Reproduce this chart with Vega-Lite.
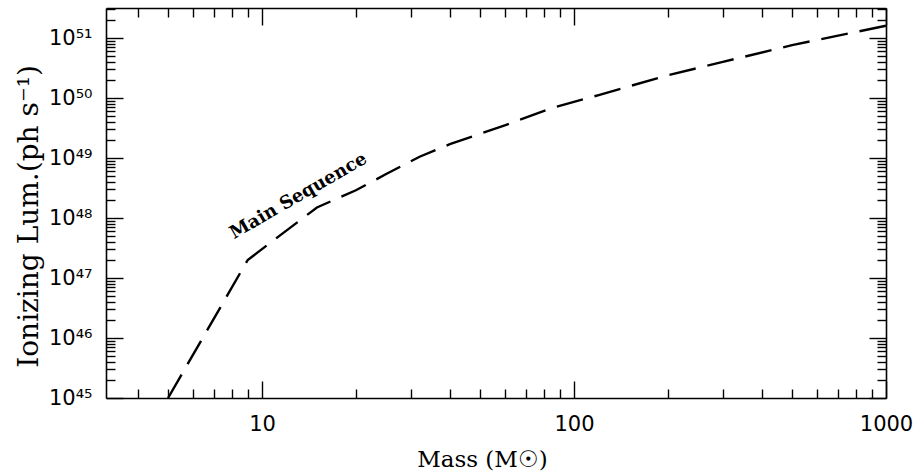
{
  "$schema": "https://vega.github.io/schema/vega-lite/v6.json",
  "autosize": "none",
  "width": 780,
  "height": 390,
  "padding": {"left": 106, "top": 8, "right": 34, "bottom": 73},
  "background": "white",
  "config": {
    "view": {"stroke": null},
    "axis": {"domainColor": "black", "domainWidth": 1.6, "tickColor": "black", "tickWidth": 1.4, "grid": false, "labelColor": "black", "titleColor": "black"}
  },
  "datasets": {
    "ms": [
      {"M": 5, "L": 1.0e45},
      {"M": 9, "L": 2.0e47},
      {"M": 15, "L": 1.5e48},
      {"M": 20, "L": 2.9e48},
      {"M": 25, "L": 5.4e48},
      {"M": 32, "L": 1.05e49},
      {"M": 40, "L": 1.7e49},
      {"M": 60, "L": 3.5e49},
      {"M": 85, "L": 6.8e49},
      {"M": 120, "L": 1.12e50},
      {"M": 200, "L": 2.4e50},
      {"M": 300, "L": 4.0e50},
      {"M": 500, "L": 7.6e50},
      {"M": 1000, "L": 1.6e51}
    ],
    "lab": [{"M": 13.1, "L": 2.3e48, "text": "Main Sequence"}]
  },
  "layer": [
    {
      "data": {"name": "ms"},
      "mark": {"type": "line", "color": "black", "strokeWidth": 2.4, "strokeDash": [27, 12]},
      "encoding": {
        "x": {
          "field": "M", "type": "quantitative",
          "scale": {"type": "log", "domain": [3.1623, 1000], "nice": false},
          "axis": {
            "orient": "bottom",
            "values": [4,5,6,7,8,9,10,20,30,40,50,60,70,80,90,100,200,300,400,500,600,700,800,900,1000],
            "tickSize": {"condition": {"test": "abs(log(datum.value)/LN10 - round(log(datum.value)/LN10)) < 0.001", "value": -17}, "value": -9},
            "labelExpr": "abs(log(datum.value)/LN10 - round(log(datum.value)/LN10)) < 0.001 ? format(datum.value, 'd') : ''",
            "labelFont": "DejaVu Sans", "labelFontSize": 21, "labelPadding": 32,
            "labelFlush": false, "labelOverlap": false, "labelBaseline": "top",
            "title": "Mass (M☉)", "titleFont": "DejaVu Serif", "titleFontSize": 23, "titleFontWeight": "normal", "titlePadding": 6, "titleX": 376
          }
        },
        "y": {
          "field": "L", "type": "quantitative",
          "scale": {"type": "log", "domain": [1e45, 3.1623e51], "nice": false},
          "axis": {
            "orient": "left",
            "values": [1e45,2e45,3e45,4e45,5e45,6e45,7e45,8e45,9e45,1e46,2e46,3e46,4e46,5e46,6e46,7e46,8e46,9e46,1e47,2e47,3e47,4e47,5e47,6e47,7e47,8e47,9e47,1e48,2e48,3e48,4e48,5e48,6e48,7e48,8e48,9e48,1e49,2e49,3e49,4e49,5e49,6e49,7e49,8e49,9e49,1e50,2e50,3e50,4e50,5e50,6e50,7e50,8e50,9e50,1e51,2e51,3e51],
            "tickSize": {"condition": {"test": "abs(log(datum.value)/LN10 - round(log(datum.value)/LN10)) < 0.001", "value": -17}, "value": -9},
            "labelExpr": "abs(log(datum.value)/LN10 - round(log(datum.value)/LN10)) < 0.001 ? '10' + ['⁴⁵','⁴⁶','⁴⁷','⁴⁸','⁴⁹','⁵⁰','⁵¹'][round(log(datum.value)/LN10) - 45] : ''",
            "labelFont": "DejaVu Sans", "labelFontSize": 21, "labelPadding": 31,
            "labelFlush": false, "labelOverlap": false, "labelBaseline": "middle",
            "title": "Ionizing Lum.(ph s⁻¹)", "titleFont": "DejaVu Serif", "titleFontSize": 28, "titleFontWeight": "normal", "titlePadding": 5, "titleY": 208
          }
        }
      }
    },
    {
      "data": {"name": "lab"},
      "mark": {"type": "text", "angle": 330, "font": "DejaVu Serif", "fontWeight": "bold", "fontSize": 18, "align": "center", "baseline": "middle", "color": "black"},
      "encoding": {
        "text": {"field": "text"},
        "x": {
          "field": "M", "type": "quantitative",
          "axis": {
            "orient": "top",
            "values": [4,5,6,7,8,9,10,20,30,40,50,60,70,80,90,100,200,300,400,500,600,700,800,900,1000],
            "tickSize": {"condition": {"test": "abs(log(datum.value)/LN10 - round(log(datum.value)/LN10)) < 0.001", "value": -17}, "value": -9},
            "labels": false, "title": null
          }
        },
        "y": {
          "field": "L", "type": "quantitative",
          "axis": {
            "orient": "right",
            "values": [1e45,2e45,3e45,4e45,5e45,6e45,7e45,8e45,9e45,1e46,2e46,3e46,4e46,5e46,6e46,7e46,8e46,9e46,1e47,2e47,3e47,4e47,5e47,6e47,7e47,8e47,9e47,1e48,2e48,3e48,4e48,5e48,6e48,7e48,8e48,9e48,1e49,2e49,3e49,4e49,5e49,6e49,7e49,8e49,9e49,1e50,2e50,3e50,4e50,5e50,6e50,7e50,8e50,9e50,1e51,2e51,3e51],
            "tickSize": {"condition": {"test": "abs(log(datum.value)/LN10 - round(log(datum.value)/LN10)) < 0.001", "value": -17}, "value": -9},
            "labels": false, "title": null
          }
        }
      }
    }
  ],
  "resolve": {"axis": {"x": "independent", "y": "independent"}}
}
